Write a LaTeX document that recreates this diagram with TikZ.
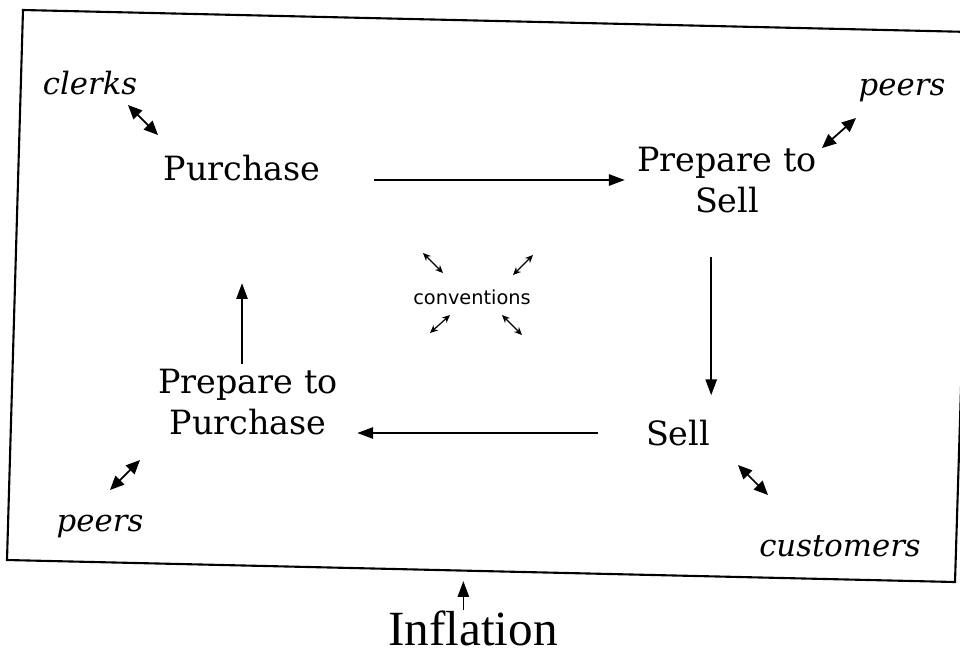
\documentclass[tikz,border=0pt]{standalone}
\usepackage{fontspec}
\setmainfont{DejaVu Serif}
\setsansfont{DejaVu Sans}
\newfontfamily\inflfont{Liberation Serif}
\usetikzlibrary{positioning, arrows, arrows.meta}

\tikzset{
  stage/.style={font=\fontsize{19}{23}\selectfont, align=center, inner sep=0pt},
  party/.style={font=\itshape\fontsize{17.5}{20}\selectfont, inner sep=0pt},
  flow/.style={-{Triangle[length=9pt,width=6.5pt]}, line width=0.8pt},
  link/.style={{Triangle[length=8pt,width=7pt]}-{Triangle[length=8pt,width=7pt]}, line width=1pt},
  small/.style={{Stealth[length=4.5pt,width=4pt]}-{Stealth[length=4.5pt,width=4pt]}, line width=0.7pt},
}

\begin{document}
\begin{tikzpicture}[x=0.02cm, y=-0.02cm]
    \clip (0,0) rectangle (960,654);
    \fill[white] (0,0) rectangle (960,654);

    % Frame (the scan is a little skewed)
    \coordinate (tl) at (23,10);
    \coordinate (tr) at (972,32);
    \coordinate (br) at (955,582);
    \coordinate (bl) at (7,560);
    \draw[line width=1.2pt] (tl) -- (tr) -- (br) -- (bl) -- cycle;

    % Define nodes
    \node[stage] (purchase) at (242,168) {Purchase};
    \node[stage] (prepsell) at (727,180) {Prepare to\\Sell};
    \node[stage] (sell) at (678,433) {Sell};
    \node[stage] (preppurch) at (248,402) {Prepare to\\Purchase};

    \node[party] (clerks) at (90,83) {clerks};
    \node[party] (peersA) at (902,90) {peers};
    \node[party] (peersB) at (100,526) {peers};
    \node[party] (customers) at (840,546) {customers};

    \node[font=\sffamily\fontsize{11}{13}\selectfont, inner sep=0pt] (conv) at (472,297) {conventions};
    \node[font=\inflfont\fontsize{28}{32}\selectfont, inner sep=0pt] (inflation) at (473,628) {Inflation};

    % Draw arrows
    \draw[flow, shorten <=30pt, shorten >=7pt] (purchase.east |- prepsell.west) -- (prepsell.west);
    \draw[flow, shorten <=25pt, shorten >=14pt] ([xshift=-9pt]prepsell.south) -- ([xshift=-9pt]prepsell.south |- sell.north);
    \draw[flow, shorten <=27pt, shorten >=11pt] (sell.west) -- (sell.west -| preppurch.east);
    \draw[flow, shorten <=3pt, shorten >=58pt] (preppurch.north -| purchase.south) -- (purchase.south);
    \draw[flow] ([xshift=-5.5pt]inflation.north) -- ++(0,-29);

    % Two-way links
    \draw[link] ([shift={(38,22)}]clerks.center) -- ++(30,30);
    \draw[link] ([shift={(-80,58)}]peersA.center) -- ++(34,-30);
    \draw[link] ([shift={(10,-36)}]peersB.center) -- ++(30,-30);
    \draw[link] ([shift={(-102,-81)}]customers.center) -- ++(30,30);

    \draw[small] ([shift={(-49,-44)}]conv.center) -- ++(20,20);
    \draw[small] ([shift={(41,-22)}]conv.center) -- ++(20,-20);
    \draw[small] ([shift={(-42,36)}]conv.center) -- ++(20,-18);
    \draw[small] ([shift={(30,18)}]conv.center) -- ++(20,20);
\end{tikzpicture}
\end{document}
